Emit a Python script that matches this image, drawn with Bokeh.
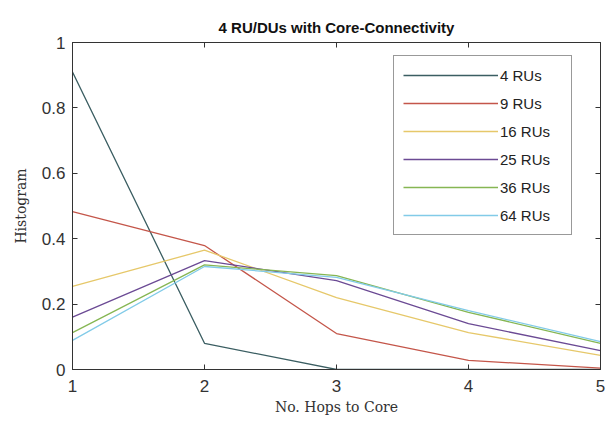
from bokeh.plotting import figure
from bokeh.models import LinearAxis, Legend, LegendItem, FixedTicker, Range1d
from bokeh.embed import file_html
from bokeh.resources import INLINE

# Hop counts and per-deployment histograms
hops = [1, 2, 3, 4, 5]
series_names = ["4 RUs", "9 RUs", "16 RUs", "25 RUs", "36 RUs", "64 RUs"]
ru4 = [0.91, 0.08, 0.0, 0.0, 0.0]
ru9 = [0.483, 0.379, 0.11, 0.028, 0.004]
ru16 = [0.254, 0.365, 0.22, 0.113, 0.043]
ru25 = [0.16, 0.333, 0.272, 0.14, 0.058]
ru36 = [0.113, 0.32, 0.287, 0.175, 0.08]
ru64 = [0.089, 0.315, 0.282, 0.18, 0.085]
series_values = [ru4, ru9, ru16, ru25, ru36, ru64]
colors = ["#3b5e62", "#c4564a", "#e6c86a", "#6b4a94", "#86b653", "#82cbe8"]

x_ticks = [1, 2, 3, 4, 5]
y_ticks = [0, 0.2, 0.4, 0.6, 0.8, 1]
y_tick_labels = {0: "0", 0.2: "0.2", 0.4: "0.4", 0.6: "0.6", 0.8: "0.8", 1: "1"}

font = "Liberation Sans"
serif = "DejaVu Serif"

p = figure(width=615, height=432, output_backend="svg", toolbar_location=None,
           x_range=Range1d(1, 5), y_range=Range1d(0, 1),
           min_border_left=72, min_border_right=15, min_border_top=42,
           min_border_bottom=63, title="4 RU/DUs with Core-Connectivity")

p.background_fill_color = "white"
p.border_fill_color = "white"
p.outline_line_color = "#333333"
p.outline_line_width = 1
p.grid.visible = False

for ax in (p.xaxis[0], p.yaxis[0]):
    ax.major_tick_in = 5
    ax.major_tick_out = 0
    ax.minor_tick_line_color = None
    ax.axis_line_color = "#333333"
    ax.major_tick_line_color = "#333333"
    ax.major_label_text_font = font
    ax.major_label_text_font_size = "17px"
    ax.major_label_text_color = "#333333"
    ax.axis_label_text_font = serif
    ax.axis_label_text_font_style = "normal"
    ax.axis_label_text_font_size = "14px"
    ax.axis_label_text_color = "#333333"

p.xaxis[0].ticker = FixedTicker(ticks=x_ticks)
p.yaxis[0].ticker = FixedTicker(ticks=y_ticks)
p.yaxis[0].major_label_overrides = y_tick_labels
p.xaxis[0].axis_label = "No. Hops to Core"
p.yaxis[0].axis_label = "Histogram"
p.xaxis[0].major_label_standoff = 10
p.xaxis[0].axis_label_standoff = 4
p.yaxis[0].major_label_standoff = 7
p.yaxis[0].axis_label_standoff = 10

# Mirrored tick marks on the top and right edges (no labels)
top = LinearAxis(ticker=FixedTicker(ticks=x_ticks), minor_tick_line_color=None,
                 major_tick_in=5, major_tick_out=0,
                 axis_line_color="#333333", major_tick_line_color="#333333",
                 major_label_overrides={t: "" for t in x_ticks})
right = LinearAxis(ticker=FixedTicker(ticks=y_ticks), minor_tick_line_color=None,
                   major_tick_in=5, major_tick_out=0,
                   axis_line_color="#333333", major_tick_line_color="#333333",
                   major_label_overrides={t: "" for t in y_ticks})
top.major_label_standoff = 0
right.major_label_standoff = 0
p.add_layout(top, "above")
p.add_layout(right, "right")

p.title.text_font = font
p.title.text_font_size = "15px"
p.title.text_font_style = "bold"
p.title.align = "center"
p.title.text_color = "#111111"
p.title.standoff = 14

items = []
for name, vals, col in zip(series_names, series_values, colors):
    r = p.line(hops, vals, line_color=col, line_width=1.3)
    items.append(LegendItem(label=name, renderers=[r]))

legend = Legend(items=items, location=(321, 134))
legend.glyph_width = 95
legend.glyph_height = 20
legend.label_height = 20
legend.label_width = 62
legend.spacing = 8
legend.padding = 9
legend.margin = 0
legend.label_standoff = 2
legend.label_text_font = font
legend.label_text_font_size = "15px"
legend.label_text_color = "#222222"
legend.border_line_color = "#333333"
legend.border_line_width = 1
legend.background_fill_color = "white"
legend.background_fill_alpha = 1
p.add_layout(legend, "center")

open("out.html", "w").write(file_html(p, INLINE))
